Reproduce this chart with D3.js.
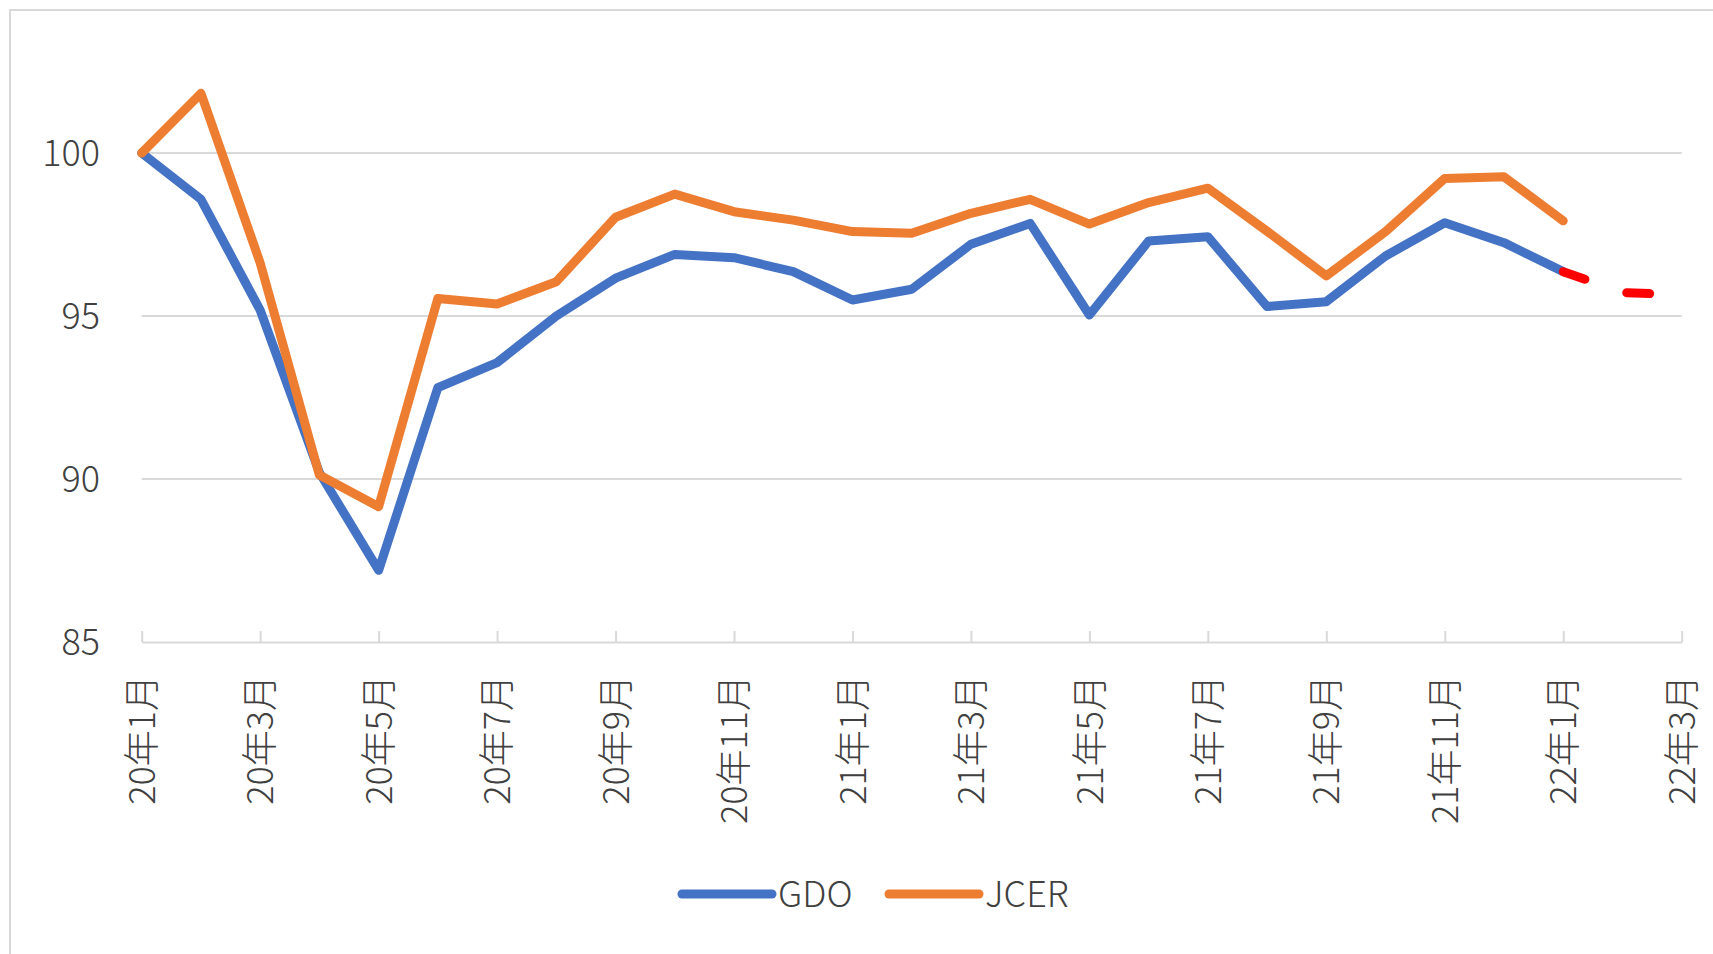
<!DOCTYPE html>
<html>
<head>
<meta charset="utf-8">
<script src="https://cdn.jsdelivr.net/npm/d3@7"></script>
<style>
  body { margin: 0; background: #fff; }
  text { font-family: "Noto Sans CJK JP", "Noto Sans", sans-serif; font-weight: 300; fill: #404040; }
</style>
</head>
<body>
<div id="chart-area"></div>
<script>
// month labels, Jan 2020 .. Mar 2022
let months = ["20年1月","20年2月","20年3月","20年4月","20年5月","20年6月","20年7月","20年8月","20年9月","20年10月","20年11月","20年12月",
              "21年1月","21年2月","21年3月","21年4月","21年5月","21年6月","21年7月","21年8月","21年9月","21年10月","21年11月","21年12月",
              "22年1月","22年2月","22年3月"];

let gdo = [100, 98.58, 95.18, 90.2, 87.2, 92.8, 93.57, 95.0, 96.16, 96.89, 96.79, 96.36,
           95.49, 95.82, 97.2, 97.84, 95.03, 97.3, 97.43, 95.29, 95.44, 96.84, 97.86, 97.25, 96.36];

let jcer = [100, 101.83, 96.63, 90.12, 89.15, 95.54, 95.37, 96.05, 98.03, 98.74, 98.2, 97.94,
            97.59, 97.54, 98.15, 98.58, 97.82, 98.48, 98.92, 97.6, 96.23, 97.59, 99.22, 99.27, 97.92];

// forecast continuation of GDO (22年1月 .. 22年3月)
let forecast = [96.36, 95.72, 95.65];
let forecastStart = 24;

let yTicks = [85, 90, 95, 100];

let width = 1713;
let height = 954;
let svg = d3.select("#chart-area")
            .append("svg")
            .attr("width", width)
            .attr("height", height);

// outer chart border
svg.append("rect")
   .attr("x", 10).attr("y", 10)
   .attr("width", width).attr("height", height)
   .attr("fill", "none")
   .attr("stroke", "#d9d9d9")
   .attr("stroke-width", 2);

let x = d3.scaleLinear()
          .domain([0, months.length - 1])
          .range([141.7, 1681.7]);

let y = d3.scaleLinear()
          .domain([85, 100])
          .range([642, 153]);

// gridlines
svg.selectAll(".grid")
   .data(yTicks.filter(function(d){ return d > 85; }))
   .enter()
   .append("line")
   .attr("x1", x(0)).attr("x2", x(months.length - 1))
   .attr("y1", function(d){ return y(d); })
   .attr("y2", function(d){ return y(d); })
   .attr("stroke", "#d9d9d9")
   .attr("stroke-width", 2);

// y labels
svg.selectAll(".ylab")
   .data(yTicks)
   .enter()
   .append("text")
   .attr("x", 100)
   .attr("y", function(d){ return y(d); })
   .attr("dy", "0.35em")
   .attr("text-anchor", "end")
   .style("font-size", "36px")
   .text(function(d){ return d; });

// x axis with inward ticks every two months
let xAxis = d3.axisBottom(x)
              .tickValues(d3.range(0, months.length, 2))
              .tickSizeInner(-11)
              .tickSizeOuter(0)
              .tickFormat(function(i){ return months[i]; });

let gx = svg.append("g")
            .attr("transform", "translate(0," + y(85) + ")")
            .call(xAxis);

gx.select(".domain").attr("stroke", "#d9d9d9").attr("stroke-width", 2);
gx.selectAll(".tick line").attr("stroke", "#d9d9d9").attr("stroke-width", 2);
gx.selectAll(".tick text")
  .attr("fill", "#404040")
  .style("font-size", "36px")
  .style("font-family", "'Noto Sans CJK JP', sans-serif")
  .style("font-weight", 300)
  .attr("text-anchor", "end")
  .attr("y", 0)
  .attr("dy", "0.35em")
  .attr("transform", "translate(0,33) rotate(-90)");

let line = d3.line()
             .x(function(d, i){ return x(i); })
             .y(function(d){ return y(d); });

svg.append("path")
   .datum(gdo)
   .attr("d", line)
   .attr("fill", "none")
   .attr("stroke", "#4472c4")
   .attr("stroke-width", 9)
   .attr("stroke-linejoin", "round")
   .attr("stroke-linecap", "round");

svg.append("path")
   .datum(jcer)
   .attr("d", line)
   .attr("fill", "none")
   .attr("stroke", "#ed7d31")
   .attr("stroke-width", 9)
   .attr("stroke-linejoin", "round")
   .attr("stroke-linecap", "round");

// red dashed forecast
let fline = d3.line()
              .x(function(d, i){ return x(forecastStart + i); })
              .y(function(d){ return y(d); });

svg.append("path")
   .datum(forecast)
   .attr("d", fline)
   .attr("fill", "none")
   .attr("stroke", "#ff0000")
   .attr("stroke-width", 9)
   .attr("stroke-dasharray", "23,44")
   .attr("stroke-linejoin", "round")
   .attr("stroke-linecap", "round");

// legend
let legend = svg.append("g");
let legendItems = [
  {name: "GDO", color: "#4472c4", x: 682},
  {name: "JCER", color: "#ed7d31", x: 889}
];
let li = legend.selectAll("g")
               .data(legendItems)
               .enter()
               .append("g")
               .attr("transform", function(d){ return "translate(" + d.x + ",894)"; });
li.append("line")
  .attr("x1", 0).attr("x2", 90)
  .attr("stroke", function(d){ return d.color; })
  .attr("stroke-width", 9)
  .attr("stroke-linecap", "round");
li.append("text")
  .attr("x", 96)
  .attr("dy", "0.35em")
  .style("font-size", "36px")
  .text(function(d){ return d.name; });
</script>
</body>
</html>
